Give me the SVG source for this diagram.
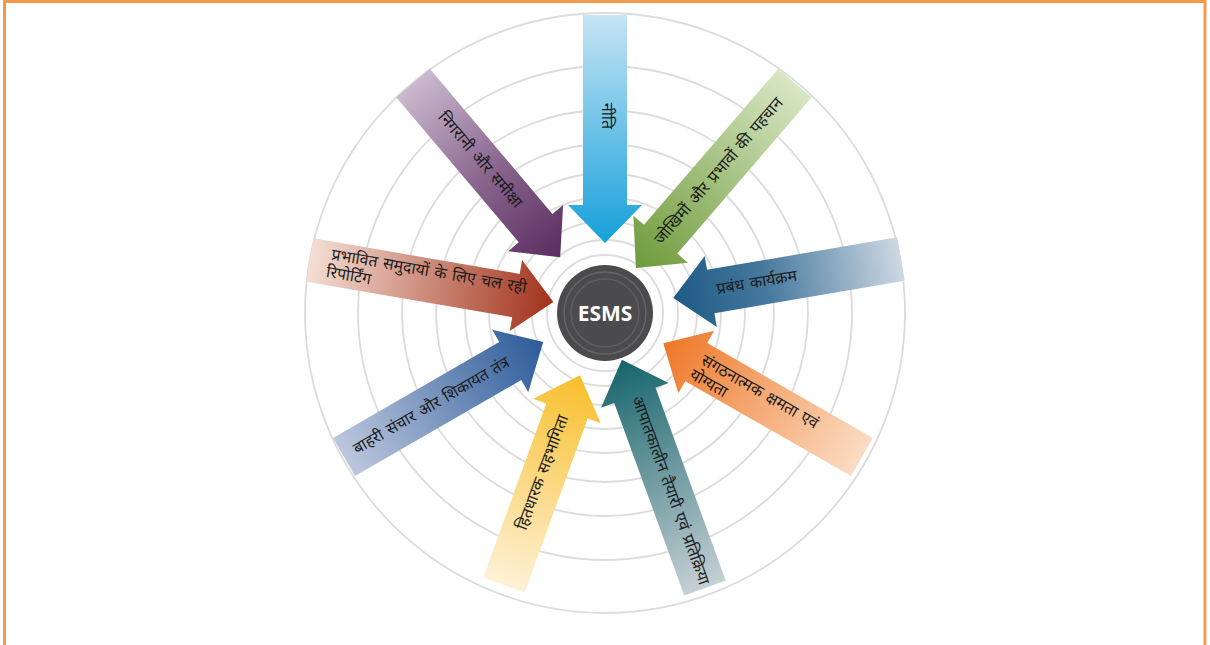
<svg xmlns="http://www.w3.org/2000/svg" width="1210" height="645" viewBox="0 0 1210 645">
<defs>
<style>
.ring{fill:none;stroke:#DCDCDC;stroke-width:1.8}
.lbl{font-family:'Noto Sans Devanagari','Noto Sans','DejaVu Sans',sans-serif;font-size:16px;word-spacing:1.5px;fill:#1b1b1b}
.mid{text-anchor:middle;dominant-baseline:central}
</style>
<linearGradient id="gBlueTop" x1="0" y1="0" x2="1" y2="0"><stop offset="0" stop-color="#C6E4F4"/><stop offset="1" stop-color="#16A0DA"/></linearGradient>
<linearGradient id="gPurple" x1="0" y1="0" x2="1" y2="0"><stop offset="0" stop-color="#CBBACF"/><stop offset="0.5" stop-color="#8B6890"/><stop offset="1" stop-color="#5A2C5F"/></linearGradient>
<linearGradient id="gGreen" x1="0" y1="0" x2="1" y2="0"><stop offset="0" stop-color="#D8E6C4"/><stop offset="1" stop-color="#6F9B3B"/></linearGradient>
<linearGradient id="gBlueR" x1="0" y1="0" x2="1" y2="0"><stop offset="0" stop-color="#CDD8E3"/><stop offset="0.6" stop-color="#46789C"/><stop offset="1" stop-color="#1C5B85"/></linearGradient>
<linearGradient id="gOrange" x1="0" y1="0" x2="1" y2="0"><stop offset="0" stop-color="#FBDCC4"/><stop offset="1" stop-color="#EE7828"/></linearGradient>
<linearGradient id="gTeal" x1="0" y1="0" x2="1" y2="0"><stop offset="0" stop-color="#C6D0D5"/><stop offset="1" stop-color="#16646B"/></linearGradient>
<linearGradient id="gYellow" x1="0" y1="0" x2="1" y2="0"><stop offset="0" stop-color="#FEF1D6"/><stop offset="1" stop-color="#F8BF2C"/></linearGradient>
<linearGradient id="gBlueLL" x1="0" y1="0" x2="1" y2="0"><stop offset="0" stop-color="#BCC7DD"/><stop offset="1" stop-color="#2C5B99"/></linearGradient>
<linearGradient id="gRed" x1="0" y1="0" x2="1" y2="0"><stop offset="0" stop-color="#F4DED4"/><stop offset="1" stop-color="#A2321B"/></linearGradient>
</defs>
<rect x="0" y="0" width="1210" height="645" fill="#FFFFFF"/>
<rect x="4.5" y="1.5" width="1200.5" height="700" fill="none" stroke="#F4994A" stroke-width="3"/>

<g id="rings">
<circle class="ring" cx="605" cy="313" r="300"/>
<circle class="ring" cx="605" cy="313" r="247"/>
<circle class="ring" cx="605" cy="313" r="203"/>
<circle class="ring" cx="605" cy="313" r="169"/>
<circle class="ring" cx="605" cy="313" r="140"/>
<circle class="ring" cx="605" cy="313" r="116"/>
<circle class="ring" cx="605" cy="313" r="92"/>
<circle class="ring" cx="605" cy="313" r="73"/>
<circle class="ring" cx="605" cy="313" r="58"/>
</g>

<g id="connectors">
<g id="arrow-niti">
<path transform="translate(605,15) rotate(90)" fill="url(#gBlueTop)" d="M0,-22 L190,-22 L190,-37 L228,0 L190,37 L190,22 L0,22 Z"/>
<text class="lbl mid" x="605" y="116" transform="rotate(90,605,116)">नीति</text>
</g>
<g id="arrow-nigrani">
<path transform="translate(413,83) rotate(49.8)" fill="url(#gPurple)" d="M0,-22 L190,-22 L190,-36 L228,0 L190,36 L190,22 L0,22 Z"/>
<text class="lbl mid" x="479" y="161" transform="rotate(49.5,479,161)">निगरानी और समीक्षा</text>
</g>
<g id="arrow-jokhim">
<path transform="translate(795,83) rotate(130.7)" fill="url(#gGreen)" d="M0,-22 L206,-22 L206,-36 L244,0 L206,36 L206,22 L0,22 Z"/>
<text class="lbl mid" x="720" y="172" transform="rotate(-49.3,720,172)">जोखिमों और प्रभावों की पहचान</text>
</g>
<g id="arrow-prabandh">
<path transform="translate(901,259) rotate(170.3)" fill="url(#gBlueR)" d="M0,-22 L193,-22 L193,-36 L231,0 L193,36 L193,22 L0,22 Z"/>
<text class="lbl mid" x="757" y="284" transform="rotate(-9.7,757,284)">प्रबंध कार्यक्रम</text>
</g>
<g id="arrow-sangathan">
<path transform="translate(862,457) rotate(209.8)" fill="url(#gOrange)" d="M0,-22 L191,-22 L191,-36 L229,0 L191,36 L191,22 L0,22 Z"/>
<g transform="translate(697,363) rotate(29.8)">
<text class="lbl" x="3" y="-1">संगठनात्मक क्षमता एवं</text>
<text class="lbl" x="0" y="17">योग्यता</text>
</g>
</g>
<g id="arrow-apatkalin">
<path transform="translate(705,588) rotate(250)" fill="url(#gTeal)" d="M0,-22 L205,-22 L205,-36 L243,0 L205,36 L205,22 L0,22 Z"/>
<text class="lbl mid" x="669" y="491" transform="rotate(70,669,491)">आपातकालीन तैयारी एवं प्रतिक्रिया</text>
</g>
<g id="arrow-hitdharak">
<path transform="translate(504,585) rotate(-70.1)" fill="url(#gYellow)" d="M0,-22 L185,-22 L185,-36 L223,0 L185,36 L185,22 L0,22 Z"/>
<text class="lbl mid" x="544" y="473" transform="rotate(-69.5,544,473)">हितधारक सहभागिता</text>
</g>
<g id="arrow-bahri">
<path transform="translate(344,457) rotate(-30)" fill="url(#gBlueLL)" d="M0,-22 L192,-22 L192,-36 L230,0 L192,36 L192,22 L0,22 Z"/>
<text class="lbl mid" x="432" y="407" transform="rotate(-30,432,407)">बाहरी संचार और शिकायत तंत्र</text>
</g>
<g id="arrow-reporting">
<path transform="translate(310,260) rotate(9.8)" fill="url(#gRed)" d="M0,-22 L209,-22 L209,-36 L247,0 L209,36 L209,22 L0,22 Z"/>
<g transform="translate(328,263) rotate(9.8)">
<text class="lbl" x="2" y="-4">प्रभावित समुदायों के लिए चल रही</text>
<text class="lbl" x="0" y="14">रिपोर्टिंग</text>
</g>
</g>
</g>

<g id="node-esms">
<circle cx="605" cy="313" r="48" fill="#4B4B4D"/>
<circle cx="605" cy="313" r="41" fill="none" stroke="#66666A" stroke-width="1.5"/>
<circle cx="605" cy="313" r="34" fill="none" stroke="#5E5E62" stroke-width="1.5"/>
<text x="605" y="313" text-anchor="middle" dominant-baseline="central" font-family="'Open Sans','Liberation Sans',sans-serif" font-weight="bold" font-size="21" fill="#FFFFFF">ESMS</text>
</g>
</svg>
